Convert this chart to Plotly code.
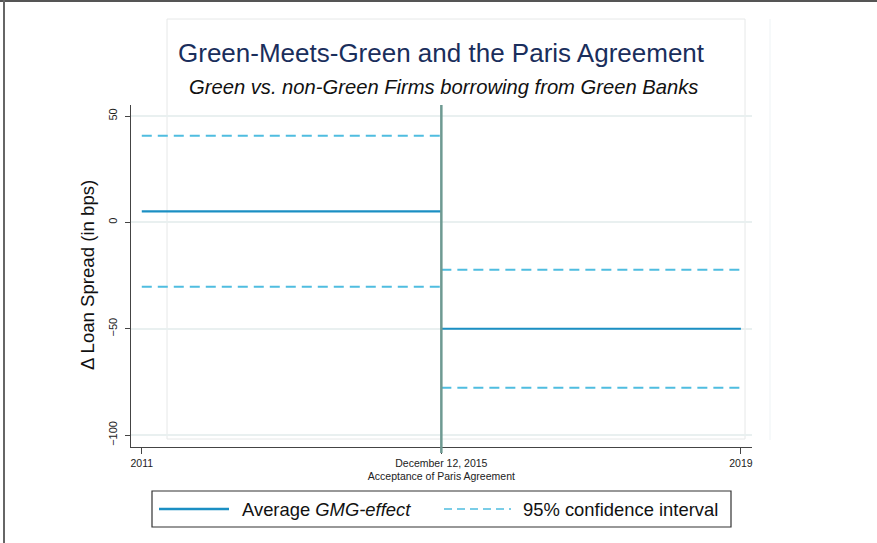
import plotly.graph_objects as go

# Event-window positions and their tick labels
period_pos = [-1, 0, 1]
period_labels = ["2011", "December 12, 2015<br>Acceptance of Paris Agreement", "2019"]

# Estimated GMG effect (bps) before / after the Paris Agreement
effect_pre = 5.2
effect_post = -50.0
ci_upper_pre = 40.7
ci_lower_pre = -30.3
ci_upper_post = -22.3
ci_lower_post = -77.8

y_ticks = [50, 0, -50, -100]

SOLID = "#1b8fc3"
DASH = "#4fbde0"
EVENT = "#6e9a92"
FONT = "Liberation Sans, Arial, sans-serif"

# plot-area geometry in pixels
W_FIG, H_FIG = 877, 543
L, R, T, B = 131, 752, 105, 447


def px(xp):
    return (xp - L) / (R - L)


def py(yp):
    return (B - yp) / (B - T)


fig = go.Figure()

segments = [
    (period_pos[0], period_pos[1], effect_pre, ci_upper_pre, ci_lower_pre),
    (period_pos[1], period_pos[2], effect_post, ci_upper_post, ci_lower_post),
]
for x0, x1, eff, up, lo in segments:
    for val in (up, lo):
        fig.add_trace(go.Scatter(
            x=[x0, x1], y=[val, val], mode="lines",
            line=dict(color=DASH, width=2, dash="10px,6px"),
            showlegend=False, hoverinfo="skip"))
    fig.add_trace(go.Scatter(
        x=[x0, x1], y=[eff, eff], mode="lines",
        line=dict(color=SOLID, width=2.2),
        showlegend=False, hoverinfo="skip"))

shapes = []
# faint outer plot-region frame
faint = dict(color="#e6e8e8", width=1)
shapes.append(dict(type="rect", xref="paper", yref="paper",
                   x0=px(167), x1=px(745), y0=py(439), y1=py(19), line=faint, layer="below"))
shapes.append(dict(type="line", xref="paper", yref="paper",
                   x0=px(770), x1=px(770), y0=py(440), y1=py(19),
                   line=dict(color="#eef3f5", width=1), layer="below"))
# outer border of the graph
shapes.append(dict(type="line", xref="paper", yref="paper",
                   x0=px(0), x1=px(877), y0=py(1), y1=py(1),
                   line=dict(color="#555555", width=2)))
shapes.append(dict(type="line", xref="paper", yref="paper",
                   x0=px(4), x1=px(4), y0=py(0), y1=py(543),
                   line=dict(color="#666666", width=2)))
# event line: acceptance of the Paris Agreement
shapes.append(dict(type="line", xref="x", yref="paper",
                   x0=period_pos[1], x1=period_pos[1], y0=py(453), y1=1,
                   line=dict(color=EVENT, width=2.5)))

# legend box
shapes.append(dict(type="rect", xref="paper", yref="paper",
                   x0=px(152), x1=px(731), y0=py(527), y1=py(491),
                   line=dict(color="#333333", width=1.2)))
shapes.append(dict(type="line", xref="paper", yref="paper",
                   x0=px(159), x1=px(229), y0=py(509), y1=py(509),
                   line=dict(color=SOLID, width=2.5)))
shapes.append(dict(type="line", xref="paper", yref="paper",
                   x0=px(444), x1=px(511), y0=py(509), y1=py(509),
                   line=dict(color=DASH, width=1.5, dash="8px,5px")))

annotations = [
    dict(text="Green-Meets-Green and the Paris Agreement", xref="paper", yref="paper",
         x=px(441.5), y=py(53), xanchor="center", yanchor="middle", showarrow=False,
         font=dict(family=FONT, size=26, color="#1a2e5c")),
    dict(text="<i>Green vs. non-Green Firms borrowing from Green Banks</i>", xref="paper", yref="paper",
         x=px(443), y=py(87), xanchor="center", yanchor="middle", showarrow=False,
         font=dict(family=FONT, size=20.2, color="#111111")),
    dict(text="\u0394 Loan Spread (in bps)", xref="paper", yref="paper",
         x=px(87), y=py(275), xanchor="center", yanchor="middle", showarrow=False,
         textangle=-90, font=dict(family=FONT, size=18.6, color="#111111")),
    dict(text="Average <i>GMG-effect</i>", xref="paper", yref="paper",
         x=px(240), y=py(509), xanchor="left", yanchor="middle", showarrow=False,
         font=dict(family=FONT, size=18.4, color="#111111")),
    dict(text="95% confidence interval", xref="paper", yref="paper",
         x=px(521), y=py(509), xanchor="left", yanchor="middle", showarrow=False,
         font=dict(family=FONT, size=18.4, color="#111111")),
]

fig.update_layout(
    width=W_FIG, height=H_FIG,
    margin=dict(l=L, r=W_FIG - R, t=T, b=H_FIG - B, pad=0),
    paper_bgcolor="white", plot_bgcolor="white",
    showlegend=False,
    shapes=shapes, annotations=annotations,
    font=dict(family=FONT, color="#222222"),
)
fig.update_xaxes(
    range=[-1.036, 1.037], tickmode="array", tickvals=period_pos, ticktext=period_labels,
    showgrid=False, zeroline=False, showline=True, linecolor="#444444", linewidth=1.2,
    ticks="outside", ticklen=6, tickcolor="#444444", tickwidth=1,
    ticklabelstandoff=0,
    tickfont=dict(family=FONT, size=10.5, color="#222222"),
)
fig.update_yaxes(
    range=[-105.6, 55.2], tickmode="array", tickvals=y_ticks,
    showgrid=True, gridcolor="#e9f0f0", gridwidth=1.5, zeroline=False,
    showline=True, linecolor="#444444", linewidth=1.2,
    ticks="outside", ticklen=5, tickcolor="#444444", tickwidth=1,
    ticklabelstandoff=4,
    tickangle=-90, tickfont=dict(family=FONT, size=11, color="#222222"),
)

fig.write_html("out.html")
